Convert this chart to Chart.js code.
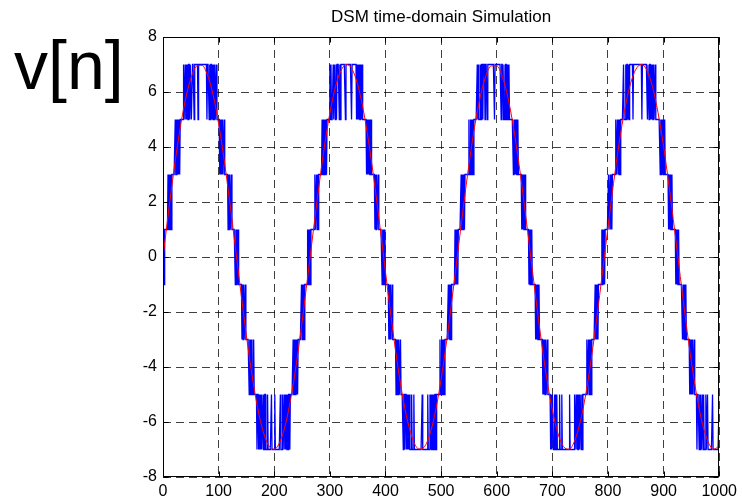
<!DOCTYPE html>
<html lang="en">
<head>
    <meta charset="UTF-8">
    <title>DSM time-domain Simulation</title>
    <script src="https://cdn.jsdelivr.net/npm/chart.js"></script>
    <style>
        body { margin: 0; background: #fff; }
    </style>
</head>
<body>
    <canvas id="grafico" width="742" height="500"></canvas>
    <script>
        // quantizer levels, index = code used in the v[n] strings below
        const levels = [-7, -5, -3, -1, 1, 3, 5, 7]

        // DSM output v[n], one character per sample (n = 0..1000)
        const vnCodes = [
          // period 1
          "343444", "4445445454555", "555655656565666",
          "66676676", "76767767", "76677767", "77777677", "77777777", "77777677", "76767767", "67676676", "6",
          "666565656556555", "5554545445444", "444343434333",
          "3332323223222", "22212121211211",
          "11101101", "01010010", "01100010", "00000100", "00010000", "00000100", "01001010", "10101101", "11",
          "11211212121222", "222323232333",
          // period 2
          "334343434444", "4445445454555", "555655656565666",
          "66767666", "76776767", "77767677", "77777767", "77777777", "76777777", "77676767", "66767666", "6",
          "666565656556555", "5554545445444", "444343434333",
          "3332323223222", "22212121211211",
          "11011011", "01010100", "01000100", "00000000", "00001000", "00000010", "00101001", "01011011", "11",
          "11211212121222", "222323232333",
          // period 3
          "333434343444", "4454454545555", "555655656565666",
          "66676766", "67677677", "76777677", "77777777", "77677777", "77777767", "77676677", "66767666", "6",
          "666565656556555", "5554545445444", "444343434333",
          "3332323223222", "22212121211211",
          "11101011", "00101010", "00010001", "00000000", "00000100", "00000010", "01010010", "11010111", "11",
          "11211212121222", "222323232333",
          // period 4 (partial)
          "333434343444", "4445445454555", "555655656565666",
          "66766676", "77676777", "77767777", "77777777", "77767777", "77777677", "67767676", "76676666", "6",
          "666565656556555", "5554545445444", "444343434333",
          "3332323223222", "22212121211211",
          "11011101", "01001010", "00100100", "00000010", "00000000", "001"
        ]

        // input sine, read every 10 samples
        const inStep = 10
        const inValues = [
          0, 1.65, 3.20, 4.58, 5.69, 6.49, 6.93, 6.97, 6.62, 5.90,
          4.85, 3.53, 2.01, 0.37, -1.28, -2.87, -4.29, -5.47, -6.34, -6.86,
          -6.99, -6.73, -6.10, -5.12, -3.85, -2.36, -0.74, 0.91, 2.52, 3.99,
          5.23, 6.18, 6.78, 7.00, 6.83, 6.27, 5.36, 4.15, 2.71, 1.12,
          -0.54, -2.17, -3.67, -4.97, -5.99, -6.68, -6.98, -6.90, -6.43, -5.60,
          -4.45, -3.05, -1.48, 0.17, 1.81, 3.35, 4.71, 5.79, 6.55, 6.95,
          6.95, 6.57, 5.81, 4.73, 3.38, 1.84, 0.20, -1.45, -3.02, -4.42,
          -5.57, -6.41, -6.89, -6.99, -6.69, -6.01, -5.00, -3.70, -2.20, -0.58,
          1.08, 2.68, 4.13, 5.34, 6.26, 6.82, 7.00, 6.79, 6.19, 5.25,
          4.02, 2.55, 0.95, -0.71, -2.33, -3.82, -5.09, -6.08, -6.72, -6.99,
          -6.87
        ]

        const xTicks = [0, 100, 200, 300, 400, 500, 600, 700, 800, 900, 1000]
        const yTicks = [-8, -6, -4, -2, 0, 2, 4, 6, 8]
        const titulo = "DSM time-domain Simulation"
        const rotuloY = "v[n]"

        const fonte = "'Liberation Sans', Arial, sans-serif"

        const vnData = vnCodes.join('').split('').map((c, i) => ({ x: i, y: levels[+c] }))
        const inData = inValues.map((v, i) => ({ x: i * inStep, y: v }))

        // box, inward ticks and texts like a matlab figure
        const moldura = {
          id: 'moldura',
          afterDraw(chart) {
            const ctx = chart.ctx
            const a = chart.chartArea
            const sx = chart.scales.x
            const sy = chart.scales.y
            const L = Math.round(a.left) + 0.5, R = Math.round(a.right) - 0.5
            const T = Math.round(a.top) + 0.5, B = Math.round(a.bottom) - 0.5
            ctx.save()
            ctx.strokeStyle = '#000'
            ctx.lineWidth = 1
            ctx.setLineDash([])
            ctx.strokeRect(L, T, R - L, B - T)
            ctx.beginPath()
            const tl = 5
            xTicks.forEach(v => {
              const px = Math.round(sx.getPixelForValue(v)) + 0.5
              ctx.moveTo(px, B); ctx.lineTo(px, B - tl)
              ctx.moveTo(px, T); ctx.lineTo(px, T + tl)
            })
            yTicks.forEach(v => {
              const py = Math.round(sy.getPixelForValue(v)) + 0.5
              ctx.moveTo(L, py); ctx.lineTo(L + tl, py)
              ctx.moveTo(R, py); ctx.lineTo(R - tl, py)
            })
            ctx.stroke()

            ctx.fillStyle = '#000'
            ctx.font = '17px ' + fonte
            ctx.textAlign = 'center'
            ctx.textBaseline = 'alphabetic'
            ctx.fillText(titulo, (a.left + a.right) / 2, 22)

            ctx.font = '68px ' + fonte
            ctx.textAlign = 'left'
            ctx.fillText(rotuloY, 14, 89)
            ctx.restore()
          }
        }

        const ctx = document.getElementById('grafico')

        new Chart(ctx, {
          type: 'line',
          data: {
            datasets: [{
              label: 'entrada',
              data: inData,
              borderColor: '#ff0000',
              borderWidth: 1,
              pointRadius: 0,
              cubicInterpolationMode: 'monotone',
              order: 0
            }, {
              label: 'v[n]',
              data: vnData,
              borderColor: '#0000ff',
              borderWidth: 1.3,
              pointRadius: 0,
              tension: 0,
              order: 1
            }]
          },
          options: {
            responsive: false,
            animation: false,
            events: [],
            layout: { padding: { top: 37, right: 20, left: 0, bottom: 0 } },
            plugins: {
              legend: { display: false },
              tooltip: { enabled: false },
              title: { display: false }
            },
            scales: {
              x: {
                type: 'linear',
                min: 0,
                max: 1000,
                afterBuildTicks: s => { s.ticks = xTicks.map(v => ({ value: v })) },
                afterFit: s => { s.height = 23 },
                grid: { color: 'rgba(0,0,0,0.75)', lineWidth: 1, drawTicks: false },
                border: { display: false, dash: [8, 5] },
                ticks: {
                  autoSkip: false, maxRotation: 0, padding: 5,
                  color: '#000', font: { family: fonte, size: 16 },
                  callback: v => String(v)
                }
              },
              y: {
                type: 'linear',
                min: -8,
                max: 8,
                afterBuildTicks: s => { s.ticks = yTicks.map(v => ({ value: v })) },
                afterFit: s => { s.width = 163 },
                grid: { color: 'rgba(0,0,0,0.75)', lineWidth: 1, drawTicks: false },
                border: { display: false, dash: [8, 5] },
                ticks: {
                  autoSkip: false, padding: 6,
                  color: '#000', font: { family: fonte, size: 16 },
                  callback: v => String(v)
                }
              }
            }
          },
          plugins: [moldura]
        })
    </script>
</body>
</html>
